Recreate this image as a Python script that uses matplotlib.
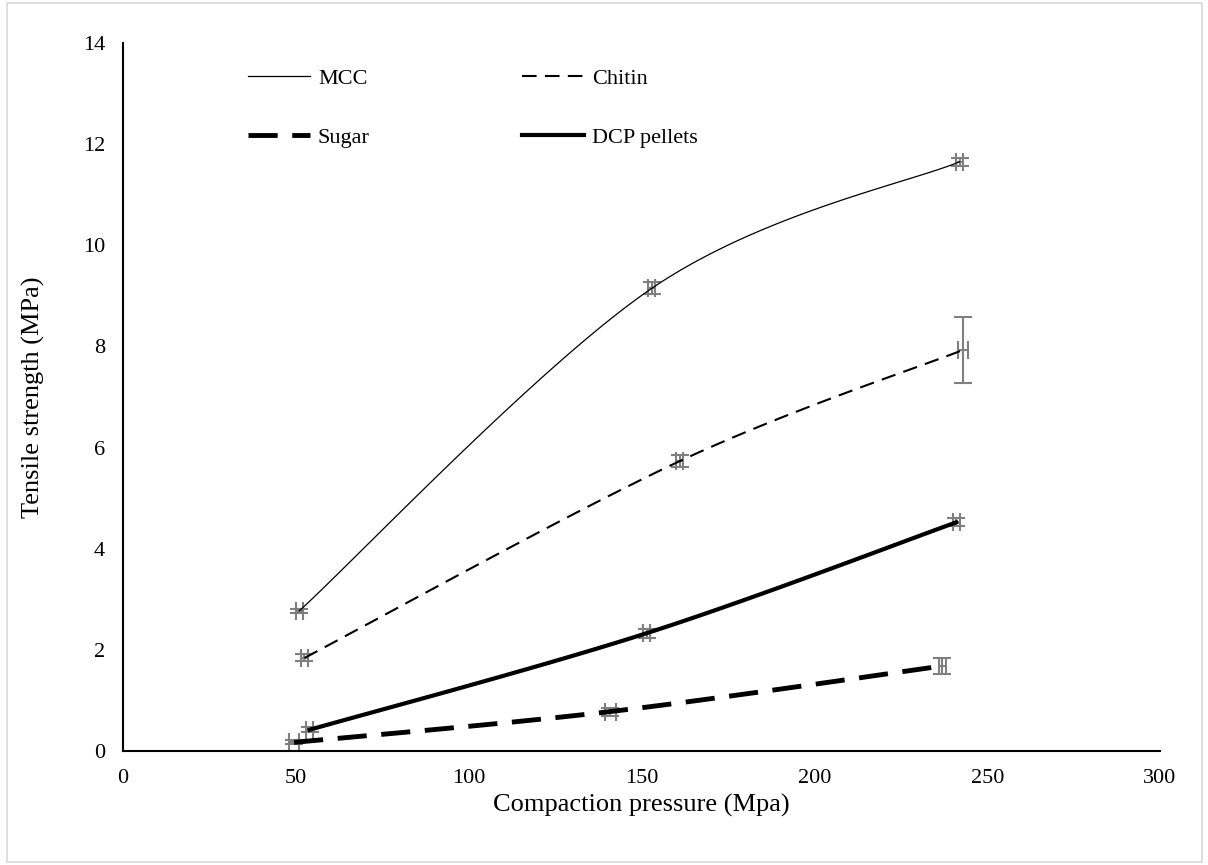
import numpy as np
import matplotlib
matplotlib.use("Agg")
import matplotlib.pyplot as plt
from matplotlib.patches import Rectangle

plt.rcParams['font.family'] = ['Liberation Serif', 'DejaVu Serif']

# data
mcc_x = [51, 153, 242]
mcc_y = [2.77, 9.15, 11.65]
mcc_yerr = [0.04, 0.12, 0.08]
mcc_xerr = [1.0, 1.0, 1.0]

chitin_x = [52.5, 161, 243]
chitin_y = [1.84, 5.73, 7.93]
chitin_yerr = [0.07, 0.12, 0.65]
chitin_xerr = [1.0, 1.0, 1.5]

sugar_x = [49.5, 141, 237]
sugar_y = [0.17, 0.78, 1.68]
sugar_yerr = [0.04, 0.08, 0.15]
sugar_xerr = [1.5, 1.5, 1.0]

dcp_x = [54, 151.5, 241]
dcp_y = [0.42, 2.33, 4.52]
dcp_yerr = [0.05, 0.09, 0.08]
dcp_xerr = [1.0, 1.0, 1.0]


def smooth(xs, ys, n=60):
    # excel-like smoothed line (catmull-rom bezier through the points)
    px = np.array(xs, float)
    py = np.array(ys, float)
    outx, outy = [], []
    t = np.linspace(0, 1, n)
    for i in range(len(px) - 1):
        p0 = np.array([px[max(i - 1, 0)], py[max(i - 1, 0)]])
        p1 = np.array([px[i], py[i]])
        p2 = np.array([px[i + 1], py[i + 1]])
        p3 = np.array([px[min(i + 2, len(px) - 1)], py[min(i + 2, len(px) - 1)]])
        c1 = p1 + (p2 - p0) / 6
        c2 = p2 - (p3 - p1) / 6
        b = ((1 - t) ** 3)[:, None] * p1 + (3 * (1 - t) ** 2 * t)[:, None] * c1 \
            + (3 * (1 - t) * t ** 2)[:, None] * c2 + (t ** 3)[:, None] * p2
        outx.extend(b[:, 0])
        outy.extend(b[:, 1])
    return outx, outy


fig = plt.figure(figsize=(12.08, 8.65), dpi=100)
ax = fig.add_axes([0.1018, 0.1318, 0.8585, 0.8185])

fig.patches.append(Rectangle((0.006, 0.004), 0.989, 0.992, transform=fig.transFigure,
                             fill=False, edgecolor='#d9d9d9', linewidth=1.2))

ebkw = dict(fmt='none', ecolor='#7f7f7f', elinewidth=1.5, capsize=6.5, capthick=1.5, zorder=2)
ax.errorbar(mcc_x, mcc_y, yerr=mcc_yerr, xerr=mcc_xerr, **ebkw)
ax.errorbar(chitin_x, chitin_y, yerr=chitin_yerr, xerr=chitin_xerr, **ebkw)
ax.errorbar(sugar_x, sugar_y, yerr=sugar_yerr, xerr=sugar_xerr, **ebkw)
ax.errorbar(dcp_x, dcp_y, yerr=dcp_yerr, xerr=dcp_xerr, **ebkw)

sx, sy = smooth(mcc_x, mcc_y)
l_mcc, = ax.plot(sx, sy, color='black', lw=0.9, label='MCC', zorder=3)
sx, sy = smooth(chitin_x, chitin_y)
l_chi, = ax.plot(sx, sy, color='black', lw=1.5, linestyle=(0, (7, 4)), label='Chitin', zorder=3)
sx, sy = smooth(sugar_x, sugar_y)
l_sug, = ax.plot(sx, sy, color='black', lw=3.5, linestyle=(0, (6, 3)), label='Sugar', zorder=3)
sx, sy = smooth(dcp_x, dcp_y)
l_dcp, = ax.plot(sx, sy, color='black', lw=3.0, label='DCP pellets', zorder=3)

ax.set_xlim(0, 300)
ax.set_ylim(0, 14)
ax.set_xticks(np.arange(0, 301, 50))
ax.set_yticks(np.arange(0, 15, 2))
ax.tick_params(length=0, labelsize=16, pad=13)
for s in ['top', 'right']:
    ax.spines[s].set_visible(False)
ax.spines['left'].set_linewidth(1.5)
ax.spines['bottom'].set_linewidth(1.5)

ax.set_xlabel('Compaction pressure (Mpa)', fontsize=19, labelpad=4)
ax.set_ylabel('Tensile strength (MPa)', fontsize=19, labelpad=27)

# row-wise order like the original: MCC, Chitin / Sugar, DCP pellets
ax.legend([l_mcc, l_sug, l_chi, l_dcp], ['MCC', 'Sugar', 'Chitin', 'DCP pellets'],
          ncol=2, loc='upper left', bbox_to_anchor=(0.101, 0.992), frameon=False,
          fontsize=16, handlelength=2.8, handletextpad=0.36, columnspacing=6.86,
          labelspacing=1.7)

fig.savefig('out.png', dpi=100)
